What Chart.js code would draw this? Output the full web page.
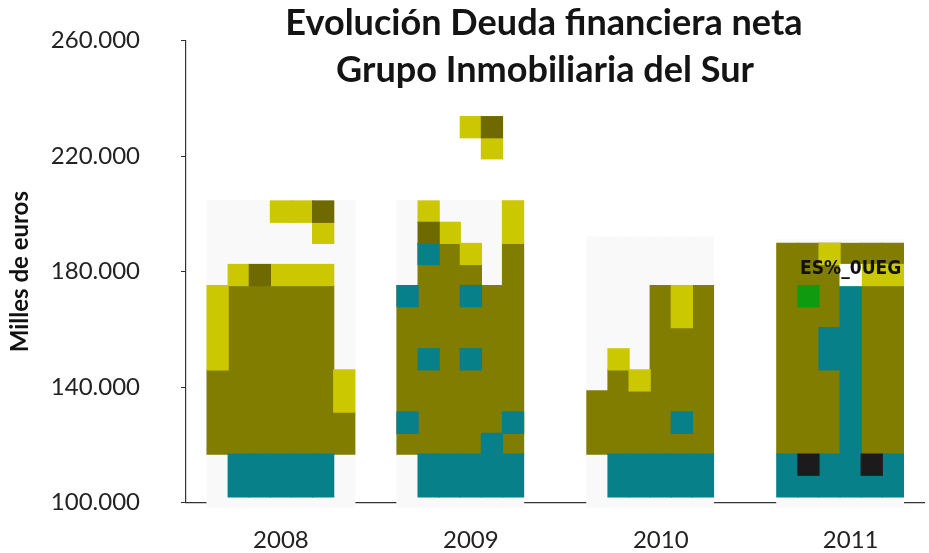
<!DOCTYPE html>
<html>
<head>
<meta charset="utf-8">
<script src="https://cdn.jsdelivr.net/npm/chart.js@4.4.1/dist/chart.umd.min.js"></script>
<style>
  html, body { margin: 0; padding: 0; background: #fff; }
</style>
</head>
<body>
<canvas id="chart" width="929" height="553"></canvas>
<script>
const titleLines = ['Evolución Deuda financiera neta', 'Grupo Inmobiliaria del Sur'];
const yAxisTitle = 'Milles de euros';

// 35 narrow columns across the plot; each year name sits under the middle of its block
const columns = [
  '', '', '', '', '2008', '', '', '', '', '', '', '', '',
  '2009', '', '', '', '', '', '', '', '',
  '2010', '', '', '', '', '', '', '', '',
  '2011', '', '', ''
];

const yTickValues = [100000, 140000, 180000, 220000, 260000];
const yTickLabels = ['100.000', '140.000', '180.000', '220.000', '260.000'];

// cells as [column, from, to] in euros, one list per colour
const lightBack = [
  [1, 98500, 204500], [2, 98500, 204500], [3, 98500, 204500], [4, 98500, 204500],
  [5, 98500, 204500], [6, 98500, 204500], [7, 98500, 204500],
  [10, 98500, 204500], [11, 98500, 204500], [12, 98500, 204500], [13, 98500, 204500],
  [14, 98500, 204500], [15, 98500, 204500],
  [19, 98500, 192000], [20, 98500, 192000], [21, 98500, 192000], [22, 98500, 192000],
  [23, 98500, 192000], [24, 98500, 192000],
  [28, 98500, 191000], [29, 98500, 191000], [30, 98500, 191000], [31, 98500, 191000],
  [32, 98500, 191000], [33, 98500, 191000]
];

const olive = [
  [1, 116800, 146000], [2, 116800, 175200], [3, 116800, 175200], [4, 116800, 175200],
  [5, 116800, 175200], [6, 116800, 175200], [7, 116800, 131400],
  [10, 116800, 175200], [11, 116800, 189800], [12, 116800, 189800], [13, 116800, 182500],
  [14, 116800, 175200], [15, 116800, 189800],
  [19, 116800, 138700], [20, 116800, 146000], [21, 116800, 138700], [22, 116800, 175200],
  [23, 116800, 175200], [24, 116800, 175200],
  [28, 116800, 189800], [29, 116800, 189800], [30, 116800, 189800], [31, 182500, 189800],
  [32, 116800, 189800], [33, 116800, 189800]
];

const teal = [
  [2, 102000, 116800], [3, 102000, 116800], [4, 102000, 116800], [5, 102000, 116800], [6, 102000, 116800],
  [11, 102000, 116800], [12, 102000, 116800], [13, 102000, 116800], [14, 102000, 124000], [15, 102000, 116800],
  [20, 102000, 116800], [21, 102000, 116800], [22, 102000, 116800], [23, 102000, 116800], [24, 102000, 116800],
  [28, 102000, 116800], [29, 102000, 116800], [30, 102000, 116800], [31, 102000, 175200],
  [32, 102000, 116800], [33, 102000, 116800],
  [10, 124000, 131400], [10, 167900, 175200], [11, 146000, 153300], [11, 182500, 189800],
  [13, 146000, 153300], [13, 167900, 175200], [15, 124000, 131400],
  [23, 124000, 131400], [30, 146000, 160600]
];

const yellow = [
  [1, 146000, 175200], [2, 175200, 182500], [4, 175200, 182500], [5, 175200, 182500],
  [6, 175200, 182500], [4, 197100, 204500], [5, 197100, 204500], [6, 189800, 197100],
  [7, 131400, 146000],
  [11, 197100, 204500], [12, 189800, 197100], [13, 182500, 189800], [15, 189800, 204500],
  [13, 226400, 233700], [14, 219100, 226400],
  [20, 146000, 153300], [21, 138700, 146000], [23, 160600, 175200],
  [30, 182500, 189800], [32, 175200, 182500], [33, 175200, 182500]
];

const darkOlive = [[3, 175200, 182500], [6, 197100, 204500], [11, 189800, 197100], [14, 226400, 233700]];
const green = [[29, 167900, 175200]];
const black = [[29, 109500, 116800], [32, 109500, 116800]];
const white = [[31, 175200, 182500]];

const cornerNote = { text: 'ES%_0UEG', column: 31, value: 181000 };

// bottom to top
const paint = [
  { cells: lightBack, color: '#F9F9F9' },
  { cells: olive, color: '#817D00' },
  { cells: teal, color: '#078089' },
  { cells: yellow, color: '#CBC700' },
  { cells: darkOlive, color: '#6F6A00' },
  { cells: green, color: '#109A10' },
  { cells: black, color: '#1B1B1B' },
  { cells: white, color: '#FFFFFF' }
];

// one column can hold only one bar per dataset, so stacked cells go to extra layers
function layers(cells) {
  const out = [];
  cells.forEach(([col, from, to]) => {
    let layer = out.find(l => l[col] == null);
    if (!layer) {
      layer = new Array(columns.length).fill(null);
      out.push(layer);
    }
    layer[col] = [from, to];
  });
  return out;
}

const datasets = paint.flatMap((p, i) => layers(p.cells).map(data => ({
  data,
  backgroundColor: p.color,
  order: paint.length - i,
  grouped: false,
  barPercentage: 1,
  categoryPercentage: 1,
  inflateAmount: 0.6,
  borderWidth: 0,
  clip: false
})));

const overlay = {
  id: 'overlay',
  afterDatasetsDraw(chart) {
    const { ctx, scales } = chart;
    ctx.save();
    ctx.font = 'bold 19px "DejaVu Sans Condensed", "Liberation Sans Narrow", sans-serif';
    ctx.fillStyle = '#111';
    ctx.textAlign = 'center';
    ctx.textBaseline = 'middle';
    ctx.fillText(cornerNote.text, scales.x.getPixelForValue(cornerNote.column), scales.y.getPixelForValue(cornerNote.value));
    ctx.restore();
  },
  afterDraw(chart) {
    const ctx = chart.ctx;
    ctx.save();
    ctx.font = 'bold 32px Lato';
    const size = 32 * 517 / ctx.measureText(titleLines[0]).width;
    ctx.font = `bold ${size.toFixed(1)}px Lato`;
    ctx.fillStyle = '#141414';
    ctx.textAlign = 'center';
    ctx.textBaseline = 'alphabetic';
    ctx.fillText(titleLines[0], 544, 35);
    ctx.fillText(titleLines[1], 545, 82);
    ctx.restore();
  }
};

new Chart(document.getElementById('chart'), {
  type: 'bar',
  data: { labels: columns, datasets },
  plugins: [overlay],
  options: {
    responsive: false,
    animation: false,
    devicePixelRatio: 1,
    layout: { padding: { top: 40.7, right: 4.5, bottom: 0, left: 0 } },
    plugins: {
      legend: { display: false },
      tooltip: { enabled: false },
      title: { display: false }
    },
    scales: {
      x: {
        type: 'category',
        grid: { display: false, drawTicks: false },
        border: { display: true, color: '#333', width: 1.2 },
        ticks: {
          autoSkip: false,
          maxRotation: 0,
          padding: 23,
          color: '#222',
          font: { family: 'Lato', size: 24 }
        },
        afterFit: (s) => {
          s.height = 50.3;
          s.paddingLeft = 0;
          s.paddingRight = 0;
        }
      },
      y: {
        min: 100000,
        max: 260000,
        afterBuildTicks: (s) => { s.ticks = yTickValues.map(value => ({ value })); },
        grid: { drawOnChartArea: false, drawTicks: true, tickLength: 5, color: '#333' },
        border: { display: true, color: '#333', width: 1.2 },
        ticks: {
          padding: 41,
          color: '#222',
          font: { family: 'Lato', size: 24 },
          callback: (v) => yTickLabels[yTickValues.indexOf(v)]
        },
        title: {
          display: true,
          text: yAxisTitle,
          color: '#111',
          font: { family: 'Lato', size: 24, weight: 'bold' },
          padding: { top: 5.6, bottom: 0 }
        },
        // the top tick label may overhang the plot; the layout padding already leaves room for it
        afterFit: (s) => {
          s.width = 186;
          s.paddingTop = 0;
          s.paddingBottom = 0;
        }
      }
    }
  }
});
</script>
</body>
</html>
